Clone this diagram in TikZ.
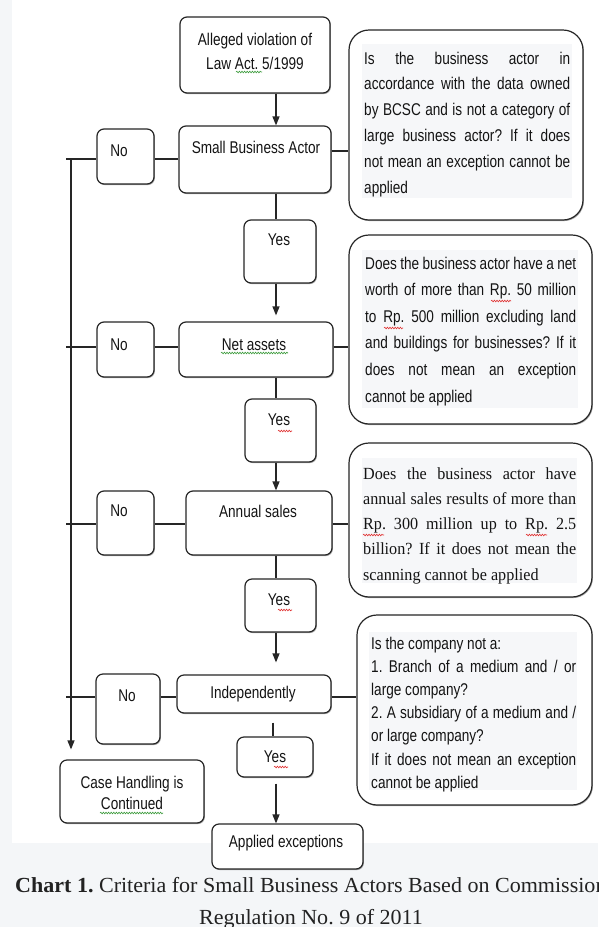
\documentclass[tikz,border=0pt]{standalone}
\usepackage{fontspec}
\setmainfont{Liberation Sans}
\newfontfamily\nar[FakeStretch=0.8]{Liberation Sans}
\newfontfamily\nserif[FakeStretch=0.95]{Liberation Serif}
\newfontfamily\capf[FakeStretch=1.025]{Liberation Serif}
\usetikzlibrary{arrows.meta,shadows,calc,decorations.pathmorphing}
\definecolor{lc}{HTML}{262626}
\definecolor{tc}{HTML}{141414}
\definecolor{bgc}{HTML}{F4F6F8}
\definecolor{hl}{HTML}{F6F7F9}
\definecolor{capc}{HTML}{222222}
\definecolor{sqr}{HTML}{E03030}
\definecolor{sqg}{HTML}{3A9A3A}
\frenchspacing
\begin{document}
\frenchspacing
\begin{tikzpicture}[x=1pt,y=-1pt,
  bx/.style={draw=lc, line width=1.2pt, rounded corners=7pt, inner sep=0pt, fill=white,
    drop shadow={shadow xshift=0.9pt, shadow yshift=-1.1pt, fill=black, opacity=0.35}},
  bigbx/.style={bx, rounded corners=20pt},
  tx/.style={font=\nar\fontsize{17}{24}\selectfont, text=tc, inner sep=0pt, align=center},
  para/.style={anchor=base west, inner sep=0pt, text=tc},
  ln/.style={draw=lc, line width=1.2pt},
  arr/.style={ln, -{Triangle[length=9pt,width=7pt]}},
  squig/.style={line width=0.6pt, decorate, decoration={snake, segment length=2.6pt, amplitude=0.8pt}}]
\useasboundingbox (0,0) rectangle (598,927);
\fill[white] (0,0) rectangle (598,927);
\fill[bgc] (0,0) rectangle (12,843);
\fill[bgc] (0,843) rectangle (598,927);

% small boxes
\node[bx, minimum width=150pt, minimum height=76pt] (top) at (255,55) {};
\node[bx, minimum width=152pt, minimum height=67pt] (sba) at (255,159.5) {};
\node[bx, minimum width=57pt, minimum height=55pt] (no1) at (125.5,156.5) {};
\node[bx, minimum width=72pt, minimum height=63pt] (yes1) at (280,251.5) {};
\node[bx, minimum width=154pt, minimum height=55pt] (net) at (256,349.5) {};
\node[bx, minimum width=57pt, minimum height=55pt] (no2) at (125.5,349.5) {};
\node[bx, minimum width=71pt, minimum height=63pt] (yes2) at (280.5,430.5) {};
\node[bx, minimum width=146pt, minimum height=64pt] (ann) at (259,523) {};
\node[bx, minimum width=57pt, minimum height=64pt] (no3) at (125.5,523) {};
\node[bx, minimum width=71pt, minimum height=53pt] (yes3) at (280.5,605.5) {};
\node[bx, minimum width=154pt, minimum height=38pt] (ind) at (254,694) {};
\node[bx, minimum width=64pt, minimum height=70pt] (no4) at (128,709) {};
\node[bx, minimum width=76pt, minimum height=40pt] (yes4) at (275,757) {};
\node[bx, minimum width=144pt, minimum height=63pt] (cas) at (132,791.5) {};
\node[bx, minimum width=151pt, minimum height=45pt] (app) at (287.5,846.5) {};

% big boxes
\node[bigbx, minimum width=234pt, minimum height=190pt] (b1) at (466,125) {};
\node[bigbx, minimum width=243pt, minimum height=189pt] (b2) at (470.5,329.5) {};
\node[bigbx, minimum width=243pt, minimum height=154pt] (b3) at (470.5,520) {};
\node[bigbx, minimum width=235pt, minimum height=190pt] (b4) at (474.5,710) {};

% text highlights
\fill[hl] (362,44) rectangle (572,198);
\fill[hl] (362,250) rectangle (578,408);
\fill[hl] (362,458) rectangle (577,583);
\fill[hl] (369,632) rectangle (577,790);

% small box texts
\node[tx] (ttop) at (255,51) {Alleged violation of\\Law Act. 5/1999};
\node[tx] (tsba) at (256,147) {Small Business Actor};
\node[tx] (tno1) at (119,151) {No};
\node[tx] (tyes1) at (279,240) {Yes};
\node[tx] (tnet) at (254,345) {Net assets};
\node[tx] (tno2) at (119,345) {No};
\node[tx] (tyes2) at (279,420) {Yes};
\node[tx] (tann) at (258,511) {Annual sales};
\node[tx] (tno3) at (119,511) {No};
\node[tx] (tyes3) at (279,600) {Yes};
\node[tx] (tind) at (253,694) {Independently};
\node[tx] (tno4) at (127,696) {No};
\node[tx] (tyes4) at (275,757) {Yes};
\node[tx, font=\nar\fontsize{17}{21}\selectfont] (tcas) at (132,792.5) {Case Handling is\\Continued};
\node[tx] (tapp) at (286,843) {Applied exceptions};

% big box texts
\node[para] (t1) at (364,64) {\parbox[t]{206pt}{\nar\fontsize{17}{25.8}\selectfont\frenchspacing
Is the business actor in\linebreak
accordance with the data owned\linebreak
by BCSC and is not a category of\linebreak
large business actor? If it does\linebreak
not mean an exception cannot be\linebreak
applied}};
\node[para] (t2) at (365,269) {\parbox[t]{211pt}{\nar\fontsize{17}{26.6}\selectfont\frenchspacing
Does the business actor have a net\linebreak
worth of more than Rp. 50 million\linebreak
to Rp. 500 million excluding land\linebreak
and buildings for businesses? If it\linebreak
does not mean an exception\linebreak
cannot be applied}};
\node[para] (t3) at (363,479) {\parbox[t]{213pt}{\nserif\fontsize{17}{25.3}\selectfont\frenchspacing
Does the business actor have\linebreak
annual sales results of more than\linebreak
Rp. 300 million up to Rp. 2.5\linebreak
billion? If it does not mean the\linebreak
scanning cannot be applied}};
\node[para] (t4) at (371,649) {\parbox[t]{205pt}{\nar\fontsize{17}{23.2}\selectfont\frenchspacing
Is the company not a:\newline
1. Branch of a medium and / or\linebreak
large company?\newline
2. A subsidiary of a medium and /\linebreak
or large company?\newline
If it does not mean an exception\linebreak
cannot be applied}};

% spell-check squiggles as in the source screenshot
\draw[squig, sqg] (236,72) -- (262,72);
\draw[squig, sqg] (221,353) -- (288,353);
\draw[squig, sqg] (100,813) -- (163,813);
\draw[squig, sqr] (491,301) -- (511,301);
\draw[squig, sqr] (384,328) -- (403,328);
\draw[squig, sqr] (363,535) -- (384,535);
\draw[squig, sqr] (526,535) -- (547,535);
\draw[squig, sqr] (278,431) -- (292,431);
\draw[squig, sqr] (278,610) -- (292,610);
\draw[squig, sqr] (274,767) -- (288,767);

% connector helper coordinates
\coordinate (sp) at (276,0);
\coordinate (sp2) at (273,0);
\coordinate (lx) at (71,0);
\coordinate (sx) at (66,0);
\coordinate (r1a) at (0,159);
\coordinate (r1b) at (0,151);
\coordinate (r2) at (0,347);
\coordinate (r3) at (0,524);
\coordinate (r4) at (0,697);

% vertical spine
\draw[arr] (top.south -| sp) -- (sba.north -| sp);
\draw[ln] (sba.south -| sp) -- (yes1.north -| sp);
\draw[arr, shorten >=6pt] (yes1.south -| sp) -- (net.north -| sp);
\draw[ln] (net.south -| sp) -- (yes2.north -| sp);
\draw[arr] (yes2.south -| sp) -- (ann.north -| sp);
\draw[ln] (ann.south -| sp) -- (yes3.north -| sp);
\draw[arr, shorten >=12pt] (yes3.south -| sp) -- (ind.north -| sp);
\draw[ln, shorten <=9pt] (ind.south -| sp2) -- (yes4.north -| sp2);
\draw[arr, shorten <=6pt] (yes4.south -| sp) -- (app.north -| sp);

% horizontal rows
\draw[ln] (r1a -| sx) -- (r1a -| no1.west);
\draw[ln] (r1a -| no1.east) -- (r1a -| sba.west);
\draw[ln] (r1b -| sba.east) -- (r1b -| b1.west);
\draw[ln] (r2 -| sx) -- (r2 -| no2.west);
\draw[ln] (r2 -| no2.east) -- (r2 -| net.west);
\draw[ln] (r2 -| net.east) -- (r2 -| b2.west);
\draw[ln] (r3 -| sx) -- (r3 -| no3.west);
\draw[ln] (r3 -| no3.east) -- (r3 -| ann.west);
\draw[ln] (r3 -| ann.east) -- (r3 -| b3.west);
\draw[ln] (r4 -| sx) -- (r4 -| no4.west);
\draw[ln] (r4 -| no4.east) -- (r4 -| ind.west);
\draw[ln] (r4 -| ind.east) -- (r4 -| b4.west);

% left return line
\draw[arr, shorten >=10pt] (r1a -| lx) -- (cas.north -| lx);

% caption
\begin{scope}
\clip (0,843) rectangle (598,927);
\node[anchor=base west, inner sep=0pt, text=capc, font=\capf\fontsize{21.5}{26}\selectfont] (cap1) at (15,892)
  {\textbf{Chart 1.} Criteria for Small Business Actors Based on Commission};
\node[anchor=base, inner sep=0pt, text=capc, font=\capf\fontsize{21.5}{26}\selectfont] (cap2) at (311,924)
  {Regulation No. 9 of 2011};
\end{scope}
\end{tikzpicture}
\end{document}
